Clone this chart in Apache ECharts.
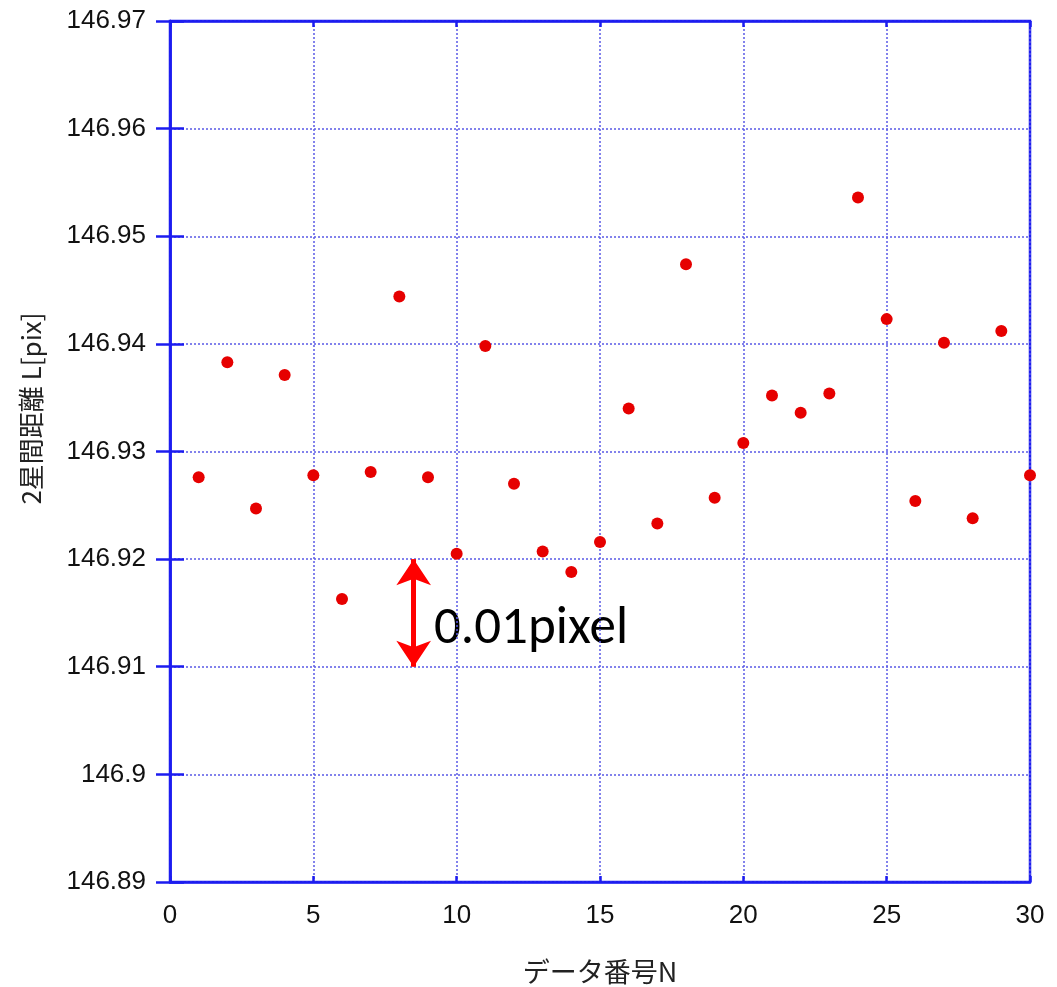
<!DOCTYPE html>
<html>
<head>
<meta charset="utf-8">
<script src="https://cdn.jsdelivr.net/npm/echarts@6/dist/echarts.min.js"></script>
<style>
html, body { margin: 0; padding: 0; background: #fff; }
#chart { width: 1057px; height: 987px; }
</style>
</head>
<body>
<div id="chart"></div>
<script>
// データ番号 N
var dataNo = [1, 2, 3, 4, 5, 6, 7, 8, 9, 10, 11, 12, 13, 14, 15,
  16, 17, 18, 19, 20, 21, 22, 23, 24, 25, 26, 27, 28, 29, 30];
// 2星間距離 L[pix]
var distL = [146.9276, 146.9383, 146.9247, 146.9371, 146.9278, 146.9163, 146.9281, 146.9444, 146.9276, 146.9205,
  146.9398, 146.9270, 146.9207, 146.9188, 146.9216, 146.9340, 146.9233, 146.9474, 146.9257, 146.9308,
  146.9352, 146.9336, 146.9354, 146.9536, 146.9423, 146.9254, 146.9401, 146.9238, 146.9412, 146.9278];
// 0.01pixel の矢印
var arrowX = 8.5;
var arrowFrom = 146.92;
var arrowTo = 146.91;

var blue = '#1c1cf0';
var gridBlue = '#5a5ae6';
var tickFont = '"Liberation Sans", Arial, sans-serif';

var points = [];
for (var i = 0; i < dataNo.length; i++) {
  points.push([dataNo[i], distL[i]]);
}

var myChart = echarts.init(document.getElementById('chart'));

myChart.setOption({
  backgroundColor: '#fff',
  animation: false,
  grid: {
    left: 170,
    right: 27,
    top: 21,
    bottom: 105,
    containLabel: false,
    outerBoundsMode: 'none',
    show: true,
    borderColor: blue,
    borderWidth: 2.5
  },
  xAxis: [{
    type: 'value',
    min: 0,
    max: 30,
    interval: 5,
    name: 'データ番号N',
    nameLocation: 'middle',
    nameGap: 76,
    nameTextStyle: { fontFamily: '"Noto Sans CJK JP", sans-serif', fontSize: 27, color: '#222' },
    axisLine: { lineStyle: { color: blue, width: 2.5 } },
    axisTick: { inside: true, length: 6, lineStyle: { color: blue, width: 2.5 } },
    axisLabel: { fontFamily: tickFont, fontSize: 26, color: '#111', margin: 21 },
    splitLine: { lineStyle: { color: gridBlue, width: 1.5, type: [2, 2] } }
  }, {
    type: 'value',
    position: 'top',
    min: 0,
    max: 30,
    interval: 5,
    axisLine: { lineStyle: { color: blue, width: 2.5 } },
    axisTick: { inside: true, length: 6, lineStyle: { color: blue, width: 2.5 } },
    axisLabel: { show: false },
    splitLine: { show: false }
  }],
  yAxis: [{
    type: 'value',
    min: 146.89,
    max: 146.97,
    interval: 0.01,
    name: '2星間距離 L[pix]',
    nameLocation: 'middle',
    nameGap: 126,
    nameRotate: 90,
    nameTextStyle: { fontFamily: '"Noto Sans CJK JP", sans-serif', fontSize: 26, color: '#222', padding: [0, 0, 0, 86] },
    axisLine: { lineStyle: { color: blue, width: 2.5 } },
    axisTick: { inside: true, length: 14, lineStyle: { color: blue, width: 2.5 } },
    axisLabel: {
      fontFamily: tickFont, fontSize: 26, color: '#111', margin: 24,
      formatter: function (v) { return String(+v.toFixed(2)); }
    },
    splitLine: { lineStyle: { color: gridBlue, width: 1.5, type: [2, 2] } }
  }, {
    type: 'value',
    position: 'right',
    min: 146.89,
    max: 146.97,
    interval: 0.01,
    axisLine: { lineStyle: { color: blue, width: 2.5 } },
    axisTick: { inside: true, length: 14, lineStyle: { color: blue, width: 2.5 } },
    axisLabel: { show: false },
    splitLine: { show: false }
  }],
  series: [{
    type: 'scatter',
    data: points,
    symbol: 'circle',
    symbolSize: 12,
    itemStyle: { color: '#e60000', opacity: 1 },
    markLine: {
      silent: true,
      symbol: ['arrow', 'arrow'],
      symbolSize: [26, 26],
      lineStyle: { color: '#ff0000', width: 5, type: 'solid', opacity: 1 },
      label: { show: false },
      data: [[{ coord: [arrowX, arrowFrom] }, { coord: [arrowX, arrowTo] }]]
    }
  }],
  graphic: [{
    type: 'text',
    x: 434,
    y: 630,
    style: {
      text: '0.01pixel',
      font: '53px Carlito, "Liberation Sans", sans-serif',
      fill: '#000',
      verticalAlign: 'middle'
    }
  }]
});
</script>
</body>
</html>
